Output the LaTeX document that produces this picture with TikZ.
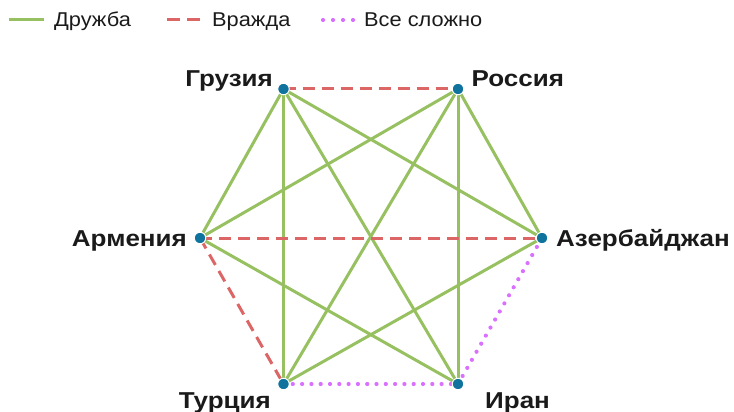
\documentclass[tikz,border=0pt]{standalone}
\usepackage{fontspec}
\setmainfont{Liberation Sans}
\newfontfamily\labfont[FakeStretch=1.13]{Liberation Sans}
\newfontfamily\legfont[FakeStretch=1.09]{Liberation Sans}
\usetikzlibrary{backgrounds}
\definecolor{fgreen}{RGB}{151,193,96}
\definecolor{fred}{RGB}{220,102,102}
\definecolor{fpurple}{RGB}{218,112,255}
\definecolor{fdot}{RGB}{16,115,158}
\definecolor{ftext}{RGB}{26,26,26}
\begin{document}
\begin{tikzpicture}[x=1pt,y=-1pt,
  dot/.style={circle,fill=fdot,draw=white,line width=1pt,minimum size=11.5pt,inner sep=0pt},
  friend/.style={draw=fgreen,line width=3pt},
  enemy/.style={draw=fred,line width=3pt,dash pattern=on 12pt off 7pt},
  complex/.style={draw=fpurple,line width=4.2pt,line cap=round,dash pattern=on 0pt off 9.3pt},
  lab/.style={font=\labfont\bfseries\fontsize{23}{27}\selectfont,text=ftext,inner sep=0pt},
  leg/.style={font=\legfont\fontsize{20}{24}\selectfont,text=ftext,inner sep=0pt,anchor=base west}]
\useasboundingbox (0,0) rectangle (734,412);
% legend
\draw[friend] (9,20) -- (44,20);
\node[leg] (l1) at (54,27) {Дружба};
\draw[enemy,dash pattern=on 13pt off 7pt] (167,20) -- (201,20);
\node[leg] (l2) at (212,27) {Вражда};
\draw[complex,dash pattern=on 0pt off 10pt] (323,20) -- (354,20);
\node[leg] (l3) at (364,27) {Все сложно};
% countries
\node[dot] (ge) at (283.5,89) {};
\node[dot] (ru) at (458,89) {};
\node[dot] (az) at (542,238) {};
\node[dot] (ir) at (458,384) {};
\node[dot] (tr) at (283.5,384) {};
\node[dot] (am) at (200,238) {};
\node[lab,anchor=base east] (lge) at (273,87) {Грузия};
\node[lab,anchor=base west] (lru) at (471.5,87) {Россия};
\node[lab,anchor=base west] (laz) at (556,246) {Азербайджан};
\node[lab,anchor=base east] (lam) at (187,246) {Армения};
\node[lab,anchor=base east] (ltr) at (271,408.5) {Турция};
\node[lab,anchor=base west] (lir) at (485,408) {Иран};
\begin{scope}[on background layer]
\draw[friend] (ge.center) -- (am.center);
\draw[friend] (ge.center) -- (tr.center);
\draw[friend] (ge.center) -- (ir.center);
\draw[friend] (ge.center) -- (az.center);
\draw[friend] (ru.center) -- (am.center);
\draw[friend] (ru.center) -- (tr.center);
\draw[friend] (ru.center) -- (ir.center);
\draw[friend] (ru.center) -- (az.center);
\draw[friend] (am.center) -- (ir.center);
\draw[friend] (tr.center) -- (az.center);
\draw[enemy] (ge.center) -- (ru.center);
\draw[enemy] (am.center) -- (az.center);
\draw[enemy] (am.center) -- (tr.center);
\draw[complex] (tr.center) -- (ir.center);
\draw[complex] (ir.center) -- (az.center);
\end{scope}
\end{tikzpicture}
\end{document}
